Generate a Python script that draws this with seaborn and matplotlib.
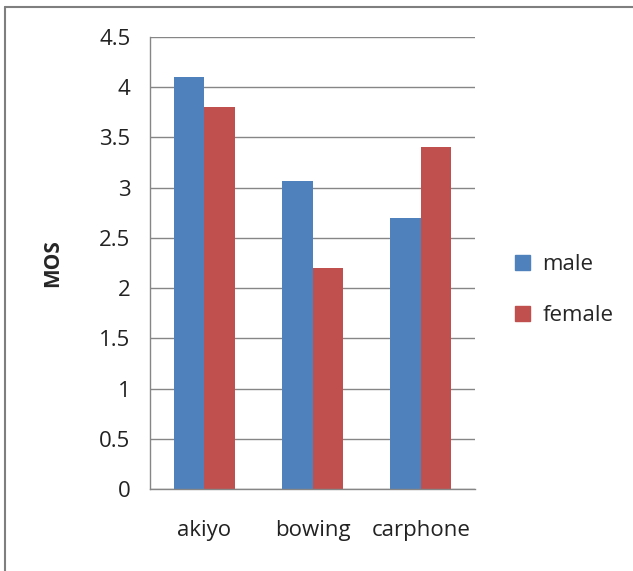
import matplotlib
matplotlib.use("Agg")
import matplotlib.pyplot as plt
import seaborn as sns
import pandas as pd
from matplotlib.lines import Line2D

categories = ["akiyo", "bowing", "carphone"]
male = [4.1, 3.07, 2.7]
female = [3.8, 2.2, 3.4]
series = ["male", "female"]
colors = ["#4F81BD", "#C0504D"]
yticks = [0, 0.5, 1, 1.5, 2, 2.5, 3, 3.5, 4, 4.5]

df = pd.DataFrame({
    "video": categories * 2,
    "MOS": male + female,
    "gender": ["male"] * 3 + ["female"] * 3,
})

sns.set_style("white")
plt.rcParams["font.family"] = ["Open Sans", "DejaVu Sans"]

fig = plt.figure(figsize=(6.33, 5.71), dpi=100)
ax = fig.add_axes([150/633, 1-489/571, 325/633, 452/571])

sns.barplot(data=df, x="video", y="MOS", hue="gender", hue_order=series,
            palette=colors, width=0.565, gap=0, saturation=1, ax=ax,
            edgecolor="none", linewidth=0)

fs = 16
ax.set_ylim(0, 4.5)
ax.set_xlim(-0.5, 2.5)
ax.set_yticks(yticks)
ax.set_yticklabels(["0", "0.5", "1", "1.5", "2", "2.5", "3", "3.5", "4", "4.5"], fontsize=fs)
ax.set_xticks([-0.5, 0.5, 1.5, 2.5], minor=False)
ax.set_xticklabels([])
ax.set_xticks([0, 1, 2], minor=True)
ax.set_xticklabels(categories, minor=True, fontsize=fs)
ax.tick_params(axis="x", which="minor", length=0, pad=22)
ax.tick_params(axis="x", which="major", length=8, color="#868686", width=1, direction="out")
ax.tick_params(axis="y", length=8, color="#868686", width=1, pad=6, direction="out")
ax.tick_params(labelcolor="#222222", which="both")
ax.yaxis.grid(True, color="#868686", linewidth=1)
ax.set_axisbelow(True)
for s in ["top", "right"]:
    ax.spines[s].set_visible(False)
for s in ["left", "bottom"]:
    ax.spines[s].set_color("#868686")
    ax.spines[s].set_linewidth(1)
ax.set_xlabel("")
ax.set_ylabel("MOS", fontsize=15, fontweight="bold", labelpad=26)

handles = [plt.Rectangle((0, 0), 1, 1, color=c) for c in colors]
ax.legend(handles, series, loc="center left", bbox_to_anchor=(1.06, 0.44),
          frameon=False, fontsize=fs, handlelength=0.7, handleheight=0.7,
          handletextpad=0.55, labelspacing=1.35)

fig.add_artist(Line2D([5/633, 5/633], [0, 1-7/571], color="#7f7f7f", linewidth=1.5, transform=fig.transFigure))
fig.add_artist(Line2D([5/633, 1], [1-7/571, 1-7/571], color="#7f7f7f", linewidth=1.5, transform=fig.transFigure))

fig.savefig("out.png", dpi=100)
